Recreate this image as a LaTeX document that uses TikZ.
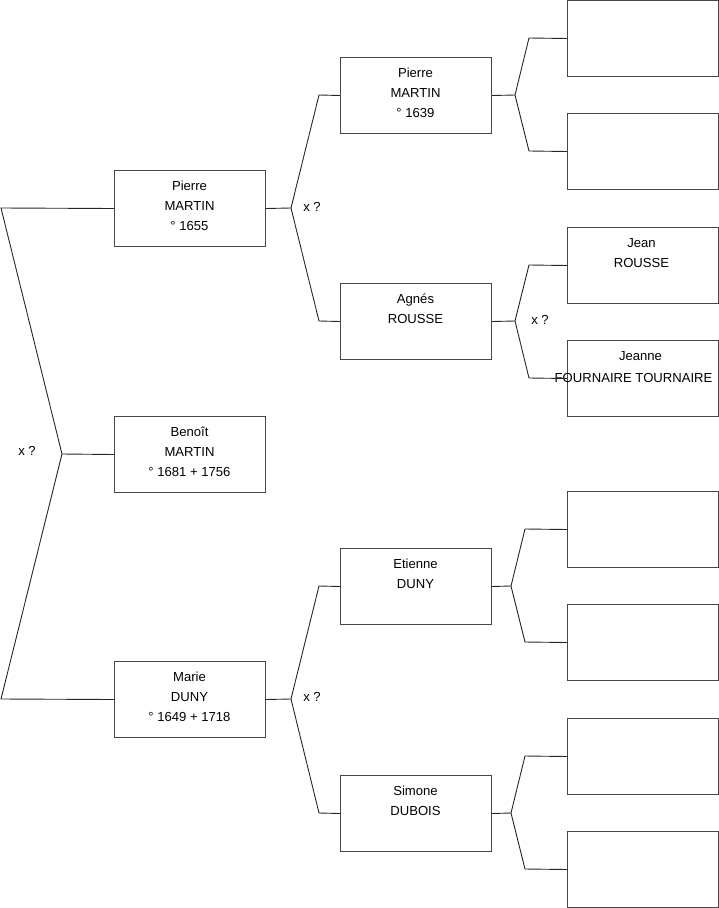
\documentclass[tikz,border=0pt]{standalone}
\usepackage{fontspec}
\setmainfont{Liberation Sans}
\usetikzlibrary{calc}
\begin{document}
\begin{tikzpicture}[x=1pt,y=-1pt,
  person/.style={draw=black!72, line width=1pt, minimum width=151pt, minimum height=76pt, inner sep=0pt, anchor=north west},
  link/.style={draw=black!85, line width=0.9pt},
  txt/.style={font=\fontsize{13.1}{15}\selectfont, inner sep=0pt, anchor=base},
  lbl/.style={font=\fontsize{13.1}{15}\selectfont, inner sep=0pt}]
\useasboundingbox (0,0) rectangle (719,908);
% boxes
\node[person] (benoit) at (114,416) {};
\node[person] (pierreA) at (114,170) {};
\node[person] (marie) at (114,661) {};
\node[person] (pierreB) at (340,57) {};
\node[person] (agnes) at (340,283) {};
\node[person] (etienne) at (340,548) {};
\node[person] (simone) at (340,775) {};
\node[person] (r1) at (567,0) {};
\node[person] (r2) at (567,113) {};
\node[person] (jean) at (567,227) {};
\node[person] (jeanne) at (567,340) {};
\node[person] (r5) at (567,491) {};
\node[person] (r6) at (567,604) {};
\node[person] (r7) at (567,718) {};
\node[person] (r8) at (567,831) {};
% texts
\node[txt] (t1a) at (189.5,436.7) {Benoît};
\node[txt] (t1b) at (189.5,456.7) {MARTIN};
\node[txt] (t1c) at (189.5,476.7) {° 1681 + 1756};
\node[txt] (t2a) at (189.5,190.7) {Pierre};
\node[txt] (t2b) at (189.5,210.7) {MARTIN};
\node[txt] (t2c) at (189.5,230.7) {° 1655};
\node[txt] (t3a) at (189.5,681.7) {Marie};
\node[txt] (t3b) at (189.5,701.7) {DUNY};
\node[txt] (t3c) at (189.5,721.7) {° 1649 + 1718};
\node[txt] (t4a) at (415.5,77.7) {Pierre};
\node[txt] (t4b) at (415.5,97.7) {MARTIN};
\node[txt] (t4c) at (415.5,117.7) {° 1639};
\node[txt] (t5a) at (415.5,303.7) {Agnés};
\node[txt] (t5b) at (415.5,323.7) {ROUSSE};
\node[txt] (t6a) at (415.5,568.7) {Etienne};
\node[txt] (t6b) at (415.5,588.7) {DUNY};
\node[txt] (t7a) at (415.5,795.7) {Simone};
\node[txt] (t7b) at (415.5,815.7) {DUBOIS};
\node[txt] (t8a) at (641.5,247.7) {Jean};
\node[txt] (t8b) at (641.5,267.7) {ROUSSE};
\node[txt] (t9a) at (640.5,360.7) {Jeanne};
\node[txt, anchor=base west] (t9b) at (554.5,382.7) {FOURNAIRE TOURNAIRE};
% marriage labels
\node[lbl] (x0) at (27,451) {x ?};
\node[lbl] (x1) at (312,207) {x ?};
\node[lbl] (x2) at (540,320) {x ?};
\node[lbl] (x3) at (312,697) {x ?};
% junction coordinates
\coordinate (j0) at (62,454);
\coordinate (a0) at (1,208);
\coordinate (b0) at (1,699);
\coordinate (j1) at (291,208);
\coordinate (a1) at (319,95);
\coordinate (b1) at (319,321);
\coordinate (j2) at (515,95);
\coordinate (a2) at (529,38);
\coordinate (b2) at (529,151);
\coordinate (j3) at (515,321);
\coordinate (a3) at (529,265);
\coordinate (b3) at (529,378);
\coordinate (j4) at (291,699);
\coordinate (a4) at (319,586);
\coordinate (b4) at (319,813);
\coordinate (j5) at (511,586);
\coordinate (a5) at (525,529);
\coordinate (b5) at (525,642);
\coordinate (j6) at (511,813);
\coordinate (a6) at (525,756);
\coordinate (b6) at (525,869);
% connectors
\draw[link] (benoit.west) -- (j0);
\draw[link] (j0) -- (a0) -- (pierreA.west);
\draw[link] (j0) -- (b0) -- (marie.west);
\draw[link] (pierreA.east) -- (j1);
\draw[link] (j1) -- (a1) -- (pierreB.west);
\draw[link] (j1) -- (b1) -- (agnes.west);
\draw[link] (pierreB.east) -- (j2);
\draw[link] (j2) -- (a2) -- (r1.west);
\draw[link] (j2) -- (b2) -- (r2.west);
\draw[link] (agnes.east) -- (j3);
\draw[link] (j3) -- (a3) -- (jean.west);
\draw[link] (j3) -- (b3) -- (jeanne.west);
\draw[link] (marie.east) -- (j4);
\draw[link] (j4) -- (a4) -- (etienne.west);
\draw[link] (j4) -- (b4) -- (simone.west);
\draw[link] (etienne.east) -- (j5);
\draw[link] (j5) -- (a5) -- (r5.west);
\draw[link] (j5) -- (b5) -- (r6.west);
\draw[link] (simone.east) -- (j6);
\draw[link] (j6) -- (a6) -- (r7.west);
\draw[link] (j6) -- (b6) -- (r8.west);
\end{tikzpicture}
\end{document}
